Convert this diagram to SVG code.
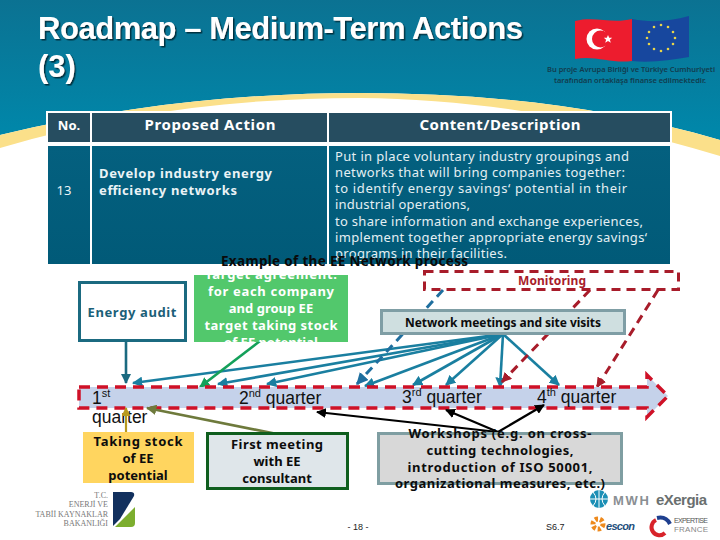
<svg xmlns="http://www.w3.org/2000/svg" width="720" height="540" viewBox="0 0 720 540">
<style>
text{font-family:"Noto Sans","DejaVu Sans",sans-serif}
.b{font-weight:700}
.m{text-anchor:middle}
.title{font-family:"Liberation Sans",Arial,sans-serif;font-weight:700;font-size:31px;fill:#fff;filter:url(#sh)}
.hd{font-size:15px;font-weight:700;fill:#fff}
.wh{font-size:13px;fill:#eaf3f6}
.ct{font-size:13px;fill:#e4eff3}
.bk{font-size:13px;font-weight:700;fill:#0c0c0c}
.gn{font-size:13px;font-weight:700;fill:#fff}
.q{font-family:"Liberation Sans",Arial,sans-serif;font-size:17.500px;fill:#111}
.sup{font-size:11px}
.small{font-size:7.5px;fill:#123c4e;font-weight:600}
.foot{font-family:"Liberation Sans",Arial,sans-serif;font-size:9px;fill:#222}
.fan{stroke:#1a7fa0;stroke-width:2.6;fill:none;marker-end:url(#aT)}
.rd{stroke:#a81c2a;stroke-width:3;stroke-dasharray:9 6;fill:none;marker-end:url(#aR)}
.blk{stroke:#000;stroke-width:2.2;fill:none;marker-end:url(#aK)}
.min{font-family:"Liberation Serif",serif;font-size:8px;fill:#777;text-anchor:end}
</style>
<defs>
<linearGradient id="bg" x1="0" y1="0" x2="0" y2="1"><stop offset="0" stop-color="#0b7292"/><stop offset="1" stop-color="#0088ab"/></linearGradient>
<linearGradient id="bd" x1="0" y1="0" x2="0" y2="1"><stop offset="0" stop-color="#04607f"/><stop offset="1" stop-color="#015a78"/></linearGradient>
<filter id="sh" x="-5%" y="-20%" width="110%" height="140%"><feDropShadow dx="1.5" dy="1.5" stdDeviation="0.6" flood-color="#06303f"/></filter>
<marker id="aT" viewBox="0 0 10 10" refX="9" refY="5" markerWidth="4" markerHeight="4" orient="auto"><path d="M0,0L10,5L0,10z" fill="#1a7fa0"/></marker>
<marker id="aB" viewBox="0 0 10 10" refX="9" refY="5" markerWidth="4" markerHeight="4" orient="auto"><path d="M0,0L10,5L0,10z" fill="#1f6f9f"/></marker>
<marker id="aD" viewBox="0 0 10 10" refX="9" refY="5" markerWidth="4" markerHeight="4" orient="auto"><path d="M0,0L10,5L0,10z" fill="#1b6a80"/></marker>
<marker id="aG" viewBox="0 0 10 10" refX="9" refY="5" markerWidth="4" markerHeight="4" orient="auto"><path d="M0,0L10,5L0,10z" fill="#14a05a"/></marker>
<marker id="aR" viewBox="0 0 10 10" refX="9" refY="5" markerWidth="3.4" markerHeight="3.4" orient="auto"><path d="M0,0L10,5L0,10z" fill="#a81c2a"/></marker>
<marker id="aK" viewBox="0 0 10 10" refX="9" refY="5" markerWidth="4.5" markerHeight="4.5" orient="auto"><path d="M0,0L10,5L0,10z" fill="#000"/></marker>
<marker id="aO" viewBox="0 0 10 10" refX="9" refY="5" markerWidth="4" markerHeight="4" orient="auto"><path d="M0,0L10,5L0,10z" fill="#6e7a3c"/></marker>
<marker id="aY" viewBox="0 0 10 10" refX="9" refY="5" markerWidth="4" markerHeight="4" orient="auto"><path d="M0,0L10,5L0,10z" fill="#b79a1e"/></marker>
<clipPath id="gc"><rect x="194" y="275" width="154" height="67"/></clipPath>
</defs>

<g id="background">
<rect width="720" height="540" fill="#fff"/>
<path d="M0,0H720V140C600,105 480,93 360,93C250,93 130,104 0,135Z" fill="url(#bg)"/>
<path d="M0,135C130,104 250,93 360,93C480,93 600,105 720,140V156C600,120 480,99 360,98C240,98 120,112 0,148Z" fill="#fbe08a"/>
</g>

<g id="title">
<text class="title" x="38" y="39" textLength="485">Roadmap – Medium-Term Actions</text>
<text class="title" x="38" y="77">(3)</text>
</g>

<g id="flags">
<path d="M575,21C595,16 612,24 632,19V61C612,64 595,55 575,59Z" fill="#ed1c2e"/>
<path d="M632,19C652,23 670,21 689,16V57C670,60 652,63 632,61Z" fill="#17479e"/>
<circle cx="597" cy="39" r="10.5" fill="#fff"/><circle cx="600.500" cy="39" r="8.500" fill="#ed1c2e"/>
<path d="M608,35l1.200,2.800l3,0l-2.300,1.900l.9,3l-2.800,-1.700l-2.800,1.700l.9,-3l-2.300,-1.900l3,0z" fill="#fff"/>
<g fill="#e8d44a"><circle cx="661" cy="25" r="1.300"/><circle cx="668" cy="27" r="1.300"/><circle cx="673" cy="32" r="1.300"/><circle cx="675" cy="38" r="1.300"/><circle cx="673" cy="44" r="1.300"/><circle cx="668" cy="49" r="1.300"/><circle cx="661" cy="51" r="1.300"/><circle cx="654" cy="49" r="1.300"/><circle cx="649" cy="44" r="1.300"/><circle cx="647" cy="38" r="1.300"/><circle cx="649" cy="32" r="1.300"/><circle cx="654" cy="27" r="1.300"/></g>
<text class="small m" x="631" y="72" textLength="168">Bu proje Avrupa Birliği ve Türkiye Cumhuriyeti</text>
<text class="small m" x="630" y="83" textLength="152">tarafından ortaklaşa finanse edilmektedir.</text>
</g>

<g id="table">
<rect x="46" y="111" width="626" height="33" fill="#fff"/>
<rect x="48" y="113" width="42" height="29" fill="#264d60"/>
<rect x="92" y="113" width="235" height="29" fill="#264d60"/>
<rect x="329" y="113" width="341" height="29" fill="#264d60"/>
<rect x="48" y="146" width="42" height="118" fill="url(#bd)"/>
<rect x="92" y="146" width="235" height="118" fill="url(#bd)"/>
<rect x="329" y="146" width="341" height="118" fill="url(#bd)"/>
<text class="hd m" x="69" y="130" style="font-size:13px">No.</text>
<text class="hd m" x="210" y="130" textLength="131">Proposed Action</text>
<text class="hd m" x="500" y="130" textLength="161">Content/Description</text>
<text class="wh m" x="64" y="195">13</text>
<text class="wh b" x="99" y="178" textLength="173">Develop industry energy</text>
<text class="wh b" x="99" y="195" textLength="138">efficiency networks</text>
<text class="ct" x="335" y="161" textLength="294">Put in place voluntary industry groupings and</text>
<text class="ct" x="335" y="177" textLength="290">networks that will bring companies together:</text>
<text class="ct" x="335" y="193" textLength="292">to identify energy savings‘  potential in their</text>
<text class="ct" x="335" y="209" textLength="135">industrial operations,</text>
<text class="ct" x="335" y="226" textLength="308">to share information and exchange experiences,</text>
<text class="ct" x="335" y="242" textLength="312">implement together appropriate energy savings‘</text>
<text class="ct" x="335" y="258" textLength="172">programs in their facilities.</text>
</g>

<g id="connectors">
<line x1="503" y1="334" x2="133" y2="383" class="fan"/>
<line x1="503" y1="334" x2="218" y2="384" class="fan"/>
<line x1="503" y1="334" x2="267" y2="384" class="fan"/>
<line x1="503" y1="334" x2="365" y2="386" class="fan"/>
<line x1="503" y1="334" x2="413" y2="385" class="fan"/>
<line x1="503" y1="334" x2="446" y2="385" class="fan"/>
<line x1="503" y1="334" x2="500" y2="387" class="fan"/>
<line x1="503" y1="334" x2="559" y2="385" class="fan"/>
<line x1="443" y1="290" x2="357" y2="384" stroke="#1f6f9f" stroke-width="3" stroke-dasharray="9 6" marker-end="url(#aB)"/>
<line x1="590" y1="290" x2="502" y2="382" class="rd"/>
<line x1="658" y1="290" x2="597" y2="387" class="rd"/>
<line x1="126" y1="342" x2="126" y2="383" stroke="#1b6a80" stroke-width="2.600" marker-end="url(#aD)"/>
<line x1="260" y1="341" x2="200" y2="387" stroke="#14a05a" stroke-width="2.600" marker-end="url(#aG)"/>
</g>

<g id="node-timeline">
<path d="M79,387H647V375L668,396L647,417V408H79Z" fill="#c5d2ea" stroke="#cf1127" stroke-width="3.500" stroke-dasharray="11 7"/>
<text class="q" x="92" y="404">1<tspan class="sup" dy="-7">st</tspan></text>
<text class="q" x="92" y="423">quarter</text>
<text class="q" x="239" y="404">2<tspan class="sup" dy="-7">nd</tspan><tspan dy="7"> quarter</tspan></text>
<text class="q" x="402" y="403">3<tspan class="sup" dy="-7">rd</tspan><tspan dy="7"> quarter</tspan></text>
<text class="q" x="537" y="403">4<tspan class="sup" dy="-7">th</tspan><tspan dy="7"> quarter</tspan></text>
</g>

<g id="connectors-lower">
<line x1="126" y1="433" x2="126" y2="408" stroke="#b79a1e" stroke-width="2.200" marker-end="url(#aY)"/>
<line x1="277" y1="434" x2="147" y2="408" stroke="#6e7a3c" stroke-width="2.600" marker-end="url(#aO)"/>
<line x1="498" y1="432" x2="317" y2="412" class="blk"/>
<line x1="498" y1="432" x2="446" y2="410" class="blk"/>
<line x1="498" y1="432" x2="544" y2="405" class="blk"/>
</g>

<g id="node-audit">
<rect x="79.500" y="282.500" width="106" height="58" fill="#fff" stroke="#1b6a80" stroke-width="3"/>
<text class="b m" x="132" y="317" style="font-size:13px;fill:#1b6078" textLength="89">Energy audit</text>
</g>

<g id="node-target" clip-path="url(#gc)">
<rect x="194" y="275" width="154" height="67" fill="#52c86c"/>
<text class="gn m" x="271" y="279" textLength="132">Target agreement:</text>
<text class="gn m" x="271" y="296" textLength="126">for each company</text>
<text class="gn m" x="271" y="313">and group EE</text>
<text class="gn m" x="271" y="330" textLength="133">target taking stock</text>
<text class="gn m" x="271" y="347">of EE potential</text>
</g>

<g id="node-monitoring">
<rect x="424.500" y="271.500" width="254" height="18" fill="none" stroke="#a81c2a" stroke-width="3" stroke-dasharray="9 6"/>
<text class="b m" x="552" y="285" style="font-size:12px;fill:#a81c2a" textLength="68">Monitoring</text>
</g>

<g id="node-meetings">
<rect x="381.500" y="310.500" width="243" height="23" fill="#cfdfe0" stroke="#7f9ea5" stroke-width="3"/>
<text class="b m" x="503" y="327" style="font-size:12px;fill:#0c0c0c" textLength="196">Network meetings and site visits</text>
</g>

<g id="node-stock">
<rect x="83" y="432" width="111" height="51" fill="#ffd55f"/>
<text class="bk m" x="138" y="446" textLength="89">Taking stock</text>
<text class="bk m" x="138" y="463">of EE</text>
<text class="bk m" x="138" y="480">potential</text>
</g>

<g id="node-consultant">
<rect x="207.500" y="433.500" width="140" height="55" fill="#dfe6ea" stroke="#0f5e1e" stroke-width="3"/>
<text class="bk m" x="277" y="449" textLength="92">First meeting</text>
<text class="bk m" x="277" y="466">with EE</text>
<text class="bk m" x="277" y="483">consultant</text>
</g>

<g id="node-workshops">
<rect x="378.500" y="433.500" width="243" height="50" fill="#d8d8d8" stroke="#7f9ea2" stroke-width="3"/>
<text class="bk m" x="500" y="438" textLength="183">Workshops (e.g. on cross-</text>
<text class="bk m" x="500" y="455" textLength="147">cutting technologies,</text>
<text class="bk m" x="500" y="472" textLength="185">introduction of ISO 50001,</text>
<text class="bk m" x="500" y="488" textLength="210">organizational measures, etc.)</text>
</g>

<g id="heading-example">
<text class="b" x="221" y="266" style="font-size:13.500px;fill:#0a0a0a" textLength="247">Example of the EE Network process</text>
</g>

<g id="footer">
<text class="foot m" x="358" y="530">- 18 -</text>
<text class="foot" x="546" y="530">S6.7</text>
<text class="min" x="108" y="498">T.C.</text>
<text class="min" x="108" y="507">ENERJİ VE</text>
<text class="min" x="108" y="517">TABİİ KAYNAKLAR</text>
<text class="min" x="108" y="526">BAKANLIĞI</text>
<path d="M113,492H131Q135,492 134,496L120,519L113,526Z" fill="#12305e"/>
<path d="M135,507V523Q135,527 131,527H115Z" fill="#7cae2e"/>
<circle cx="599" cy="499" r="9" fill="#1b8fb5"/>
<path d="M590,499H608M599,490V508M593,492Q599,499 593,506M605,492Q599,499 605,506" stroke="#fff" fill="none" stroke-width="1"/>
<text x="613" y="505" style="font-family:'Liberation Sans',sans-serif;font-weight:700;font-size:13px;fill:#8a8f93" textLength="36">MWH</text>
<text x="656" y="505" style="font-family:'Liberation Sans',sans-serif;font-weight:700;font-size:15px;fill:#6a6f6f" textLength="51">eXergia</text>
<circle cx="598" cy="524" r="5" fill="none" stroke="#ee8a1d" stroke-width="5" stroke-dasharray="3 2"/>
<text x="606" y="530" style="font-family:'Liberation Sans',sans-serif;font-weight:700;font-style:italic;font-size:11px;fill:#1d4f7c" textLength="29">escon</text>
<path d="M656,520A8,8 0 1 0 665,533" fill="none" stroke="#d8232a" stroke-width="4"/>
<path d="M657,518Q666,516 670,524" fill="none" stroke="#1f3f8f" stroke-width="4"/>
<text x="674" y="523" style="font-family:'Liberation Sans',sans-serif;font-size:7px;fill:#555" textLength="34">EXPERTISE</text>
<text x="674" y="532" style="font-family:'Liberation Sans',sans-serif;font-size:8px;fill:#888" textLength="34">FRANCE</text>
</g>
</svg>
